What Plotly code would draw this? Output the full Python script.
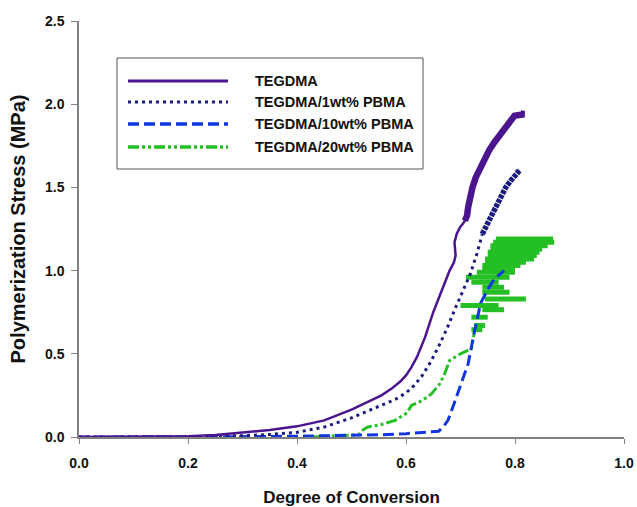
import plotly.graph_objects as go

# ---------------- data ----------------
teg_x = [0.0, 0.1, 0.2, 0.25, 0.3, 0.35, 0.4, 0.45, 0.5, 0.53, 0.555, 0.575, 0.59, 0.60, 0.61,
         0.62, 0.635, 0.65, 0.665, 0.68, 0.688, 0.691, 0.690, 0.689, 0.693, 0.699, 0.705, 0.710]
teg_y = [0.0, 0.001, 0.005, 0.012, 0.025, 0.042, 0.064, 0.10, 0.165, 0.21, 0.25, 0.295, 0.335, 0.37, 0.42,
         0.48, 0.60, 0.75, 0.875, 1.0, 1.05, 1.09, 1.13, 1.17, 1.22, 1.26, 1.285, 1.31]
teg_noisy_x = [0.708, 0.712, 0.714, 0.718, 0.722, 0.728, 0.735, 0.744, 0.752, 0.762, 0.771, 0.78,
               0.79, 0.799, 0.808, 0.817, 0.81]
teg_noisy_y = [1.30, 1.33, 1.38, 1.45, 1.50, 1.56, 1.61, 1.67, 1.72, 1.77, 1.81, 1.85,
               1.89, 1.93, 1.935, 1.94, 1.945]

p1_x = [0.0, 0.2, 0.3, 0.35, 0.4, 0.45, 0.5, 0.556, 0.58, 0.60, 0.615, 0.63, 0.645, 0.66,
        0.675, 0.69, 0.705, 0.718, 0.73, 0.740]
p1_y = [0.0, 0.002, 0.008, 0.015, 0.028, 0.06, 0.115, 0.19, 0.225, 0.265, 0.31, 0.37, 0.45, 0.545,
        0.65, 0.77, 0.88, 0.98, 1.10, 1.22]
p1_noisy_x = [0.740, 0.746, 0.752, 0.759, 0.767, 0.774, 0.783, 0.792, 0.800, 0.808, 0.803]
p1_noisy_y = [1.22, 1.26, 1.30, 1.35, 1.40, 1.45, 1.50, 1.54, 1.57, 1.60, 1.59]

p10_x = [0.0, 0.1, 0.2, 0.3, 0.4, 0.5, 0.55, 0.6, 0.64, 0.66, 0.668, 0.677, 0.686, 0.695,
         0.705, 0.714, 0.725, 0.737, 0.75, 0.762, 0.78]
p10_y = [0.0, 0.0, 0.0, 0.002, 0.005, 0.01, 0.013, 0.02, 0.03, 0.035, 0.06, 0.10, 0.18, 0.26,
         0.35, 0.44, 0.625, 0.805, 0.886, 0.95, 1.0]

p20_x = [0.427, 0.45, 0.48, 0.505, 0.513, 0.52, 0.53, 0.555, 0.58, 0.602, 0.61, 0.63, 0.647,
         0.662, 0.671, 0.68, 0.70, 0.72, 0.725]
p20_y = [0.0, 0.003, 0.006, 0.01, 0.014, 0.04, 0.06, 0.075, 0.10, 0.145, 0.19, 0.22, 0.26,
         0.32, 0.38, 0.46, 0.50, 0.53, 0.62]
# scattered horizontal streaks at the end of the 20wt% run (None = gap between streaks)
p20_noisy_x = [0.72, 0.74, None, 0.725, 0.745, None, 0.72, 0.75, None, 0.74, 0.78, None,
               0.70, 0.77, None, 0.745, 0.82, None, 0.74, 0.79, None, 0.74, 0.78, None,
               0.72, 0.77, None, 0.71, 0.79, None, 0.73, 0.80, None, 0.74, 0.80, None,
               0.74, 0.81, None, 0.745, 0.82, None, 0.745, 0.835, None, 0.75, 0.84, None,
               0.75, 0.845, None, 0.755, 0.85, None, 0.755, 0.86, None, 0.76, 0.872, None,
               0.765, 0.87]
p20_noisy_y = [0.645, 0.645, None, 0.67, 0.67, None, 0.72, 0.72, None, 0.765, 0.765, None,
               0.79, 0.79, None, 0.83, 0.83, None, 0.87, 0.87, None, 0.90, 0.90, None,
               0.93, 0.93, None, 0.96, 0.96, None, 0.99, 0.99, None, 1.01, 1.01, None,
               1.03, 1.03, None, 1.05, 1.05, None, 1.07, 1.07, None, 1.09, 1.09, None,
               1.11, 1.11, None, 1.13, 1.13, None, 1.15, 1.15, None, 1.17, 1.17, None,
               1.19, 1.19]

series_names = ["TEGDMA", "TEGDMA/1wt% PBMA", "TEGDMA/10wt% PBMA", "TEGDMA/20wt% PBMA"]
x_ticks = [0.0, 0.2, 0.4, 0.6, 0.8, 1.0]
y_ticks = [0.0, 0.5, 1.0, 1.5, 2.0, 2.5]

# ---------------- styles ----------------
C_TEG = "#4b1590"
C_P1 = "#1c1c80"
C_P10 = "#1236e0"
C_P20 = "#24bf24"
D_P1 = "3px,4px"
D_P10 = "11px,5px"
D_P20 = "11px,3px,3px,3px,3px,3px"
FONT = "Liberation Sans, Arial, sans-serif"

fig = go.Figure()

fig.add_trace(go.Scatter(x=p20_x, y=p20_y, mode="lines", name=series_names[3],
                         line=dict(color=C_P20, width=3, dash=D_P20), showlegend=False))
fig.add_trace(go.Scatter(x=p20_noisy_x, y=p20_noisy_y, mode="lines", name=series_names[3],
                         line=dict(color=C_P20, width=5), connectgaps=False, showlegend=False))
fig.add_trace(go.Scatter(x=p10_x, y=p10_y, mode="lines", name=series_names[2],
                         line=dict(color=C_P10, width=3, dash=D_P10), showlegend=False))
fig.add_trace(go.Scatter(x=p1_x, y=p1_y, mode="lines", name=series_names[1],
                         line=dict(color=C_P1, width=3, dash=D_P1), showlegend=False))
fig.add_trace(go.Scatter(x=p1_noisy_x, y=p1_noisy_y, mode="lines", name=series_names[1],
                         line=dict(color=C_P1, width=5.5, dash="4px,1px"), showlegend=False))
fig.add_trace(go.Scatter(x=teg_x, y=teg_y, mode="lines", name=series_names[0],
                         line=dict(color=C_TEG, width=2.5), showlegend=False))
fig.add_trace(go.Scatter(x=teg_noisy_x, y=teg_noisy_y, mode="lines", name=series_names[0],
                         line=dict(color=C_TEG, width=6.5), showlegend=False))

# ---------------- legend box (drawn in paper coordinates) ----------------
L, R, T, B = 79, 13, 21, 70
W, H = 637, 507
pw, ph = W - L - R, H - T - B


def px_x(p):
    return (p - L) / pw


def px_y(p):
    return (H - B - p) / ph


shapes = [dict(type="rect", xref="paper", yref="paper",
               x0=px_x(117), x1=px_x(423), y0=px_y(169), y1=px_y(58),
               line=dict(color="#555555", width=1), fillcolor="white", layer="above")]
annots = []
leg_styles = [(C_TEG, "solid", 3), (C_P1, D_P1, 3), (C_P10, D_P10, 3.5), (C_P20, D_P20, 3.5)]
leg_rows = [81, 102, 124, 147]
for name, (col, dash, w), ry in zip(series_names, leg_styles, leg_rows):
    shapes.append(dict(type="line", xref="paper", yref="paper",
                       x0=px_x(128), x1=px_x(228), y0=px_y(ry), y1=px_y(ry),
                       line=dict(color=col, width=w, dash=dash), layer="above"))
    annots.append(dict(xref="paper", yref="paper", x=px_x(253), y=px_y(ry), text=name,
                       showarrow=False, xanchor="left", yanchor="middle",
                       font=dict(family=FONT, size=14.5, color="#111111", weight="bold")))

fig.update_layout(
    width=W, height=H,
    margin=dict(l=L, r=R, t=T, b=B, autoexpand=False),
    paper_bgcolor="white", plot_bgcolor="white",
    font=dict(family=FONT, color="#111111"),
    shapes=shapes, annotations=annots,
    xaxis=dict(range=[0, 1.0], tickvals=x_ticks, tickformat=".1f", automargin=False,
               showgrid=False, zeroline=False, showline=True, linecolor="#808080", linewidth=1.5,
               ticks="outside", ticklen=5, tickcolor="#808080", ticklabelstandoff=7,
               tickfont=dict(size=14, weight="bold"),
               title=dict(text="Degree of Conversion", standoff=22,
                          font=dict(size=17, weight="bold"))),
    yaxis=dict(range=[0, 2.5], tickvals=y_ticks, tickformat=".1f", automargin=False,
               showgrid=False, zeroline=False, showline=True, linecolor="#808080", linewidth=1.5,
               ticks="outside", ticklen=6, tickcolor="#808080", ticklabelstandoff=4,
               tickfont=dict(size=14, weight="bold"),
               title=dict(text="Polymerization Stress (MPa)", standoff=14,
                          font=dict(size=20, weight="bold"))),
)

fig.write_html("out.html")
